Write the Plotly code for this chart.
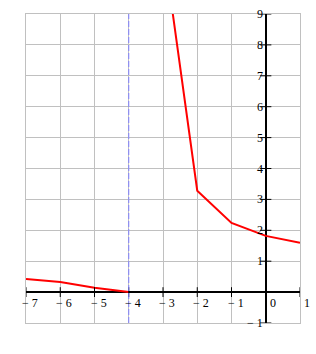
import plotly.graph_objects as go

# Data
left_x = [-7, -6, -5, -4]
left_y = [0.42, 0.33, 0.14, 0.0]
right_x = [-3, -2, -1, 0, 1]
right_y = [11.3, 3.28, 2.24, 1.82, 1.6]
asymptote_x = -4

x_ticks = [-7, -6, -5, -4, -3, -2, -1, 0, 1]
y_ticks = [-1, 1, 2, 3, 4, 5, 6, 7, 8, 9]

def lab(v):
    return ("\u2212 " + str(-v)) if v < 0 else str(v)

fig = go.Figure()
fig.add_trace(go.Scatter(x=left_x, y=left_y, mode="lines",
                         line=dict(color="#ff0000", width=2), hoverinfo="skip"))
fig.add_trace(go.Scatter(x=right_x, y=right_y, mode="lines",
                         line=dict(color="#ff0000", width=2), hoverinfo="skip"))
# tick marks at the axes through the origin
fig.add_trace(go.Scatter(x=x_ticks, y=[0] * len(x_ticks), mode="markers",
                         marker=dict(symbol="line-ns", size=7,
                                     line=dict(color="black", width=1)),
                         hoverinfo="skip", cliponaxis=False))
fig.add_trace(go.Scatter(x=[0] * len(y_ticks), y=y_ticks, mode="markers",
                         marker=dict(symbol="line-ew", size=8,
                                     line=dict(color="black", width=1)),
                         hoverinfo="skip", cliponaxis=False))

fig.add_shape(type="line", x0=asymptote_x, x1=asymptote_x, y0=0, y1=1,
              xref="x", yref="paper",
              line=dict(color="#8080ff", width=1, dash="6px,2px"))

annotations = []
font = dict(family="Liberation Serif", size=12, color="black")
for v in x_ticks:
    annotations.append(dict(x=v, y=0, xref="x", yref="y", text=lab(v),
                            showarrow=False, xanchor="left", yanchor="middle",
                            xshift=(-6 if v < 0 else 2), yshift=-11, font=font))
for v in y_ticks:
    annotations.append(dict(x=0, y=v, xref="x", yref="y", text=lab(v),
                            showarrow=False, xanchor="right", yanchor="middle",
                            xshift=-1, yshift=0, font=font))

fig.update_layout(
    width=316, height=354,
    margin=dict(l=26, r=16, t=14, b=31),
    paper_bgcolor="white", plot_bgcolor="white",
    showlegend=False,
    annotations=annotations,
    xaxis=dict(range=[-7, 1], dtick=1, tick0=0, showticklabels=False,
               showgrid=True, gridcolor="#c0c0c0", gridwidth=1,
               zeroline=True, zerolinecolor="black", zerolinewidth=2,
               showline=True, linecolor="#c0c0c0", linewidth=1, mirror=True,
               ticks="", fixedrange=True),
    yaxis=dict(range=[-1, 9], dtick=1, tick0=0, showticklabels=False,
               showgrid=True, gridcolor="#c0c0c0", gridwidth=1,
               zeroline=True, zerolinecolor="black", zerolinewidth=2,
               showline=True, linecolor="#c0c0c0", linewidth=1, mirror=True,
               ticks="", fixedrange=True),
)

fig.write_html("out.html", config={"displayModeBar": False})
